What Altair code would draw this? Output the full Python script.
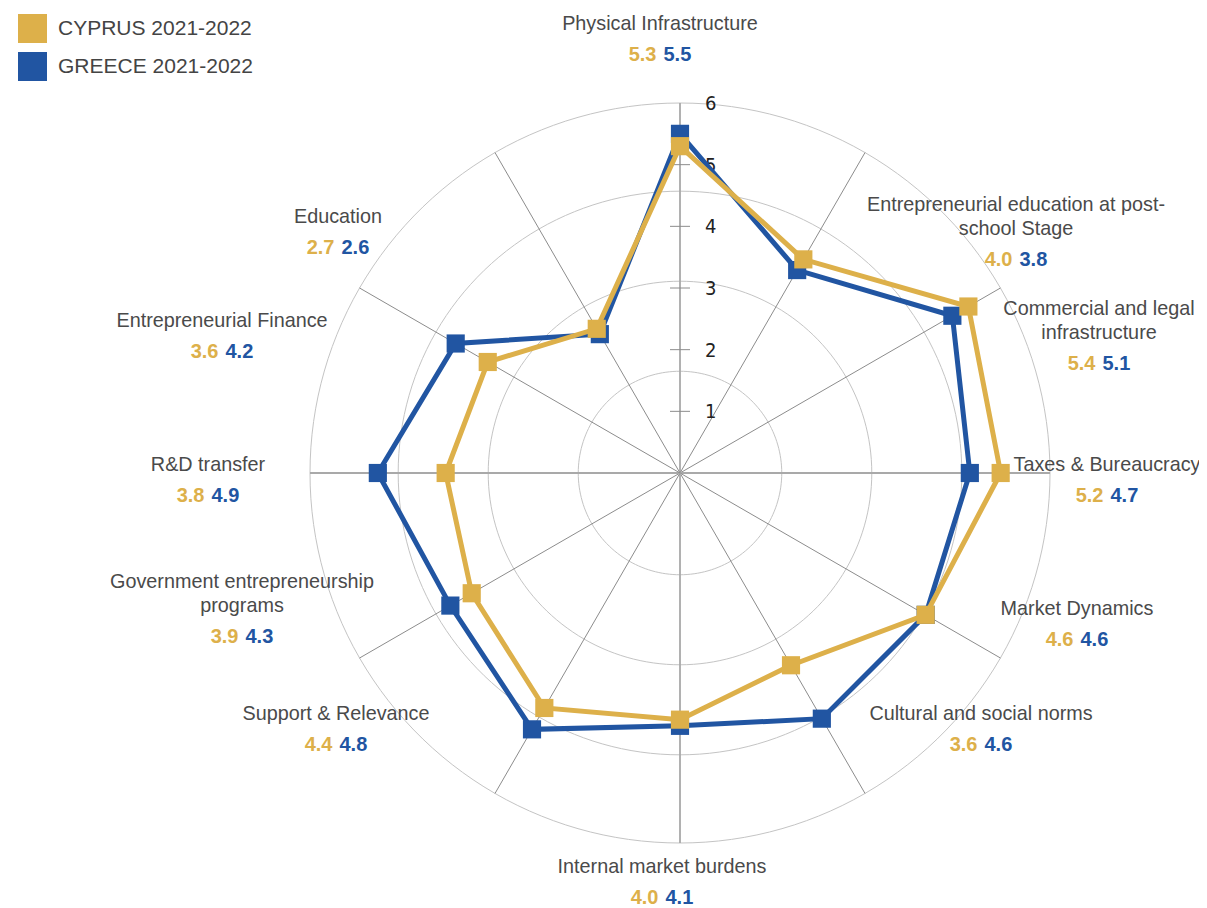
import altair as alt
import numpy as np
import pandas as pd

# ---------------- data ----------------
CATEGORIES = [
    "Physical Infrastructure",
    "Entrepreneurial education at post-\nschool Stage",
    "Commercial and legal\ninfrastructure",
    "Taxes & Bureaucracy",
    "Market Dynamics",
    "Cultural and social norms",
    "Internal market burdens",
    "Support & Relevance",
    "Government entrepreneurship\nprograms",
    "R&D transfer",
    "Entrepreneurial Finance",
    "Education",
]
CYPRUS = [5.3, 4.0, 5.4, 5.2, 4.6, 3.6, 4.0, 4.4, 3.9, 3.8, 3.6, 2.7]
GREECE = [5.5, 3.8, 5.1, 4.7, 4.6, 4.6, 4.1, 4.8, 4.3, 4.9, 4.2, 2.6]
SERIES = ["CYPRUS 2021-2022", "GREECE 2021-2022"]
RADIAL_TICKS = [1, 2, 3, 4, 5, 6]
GRID_LEVELS = [1.65, 3.11, 4.57, 6.0]
RMAX = 6

# ---------------- layout / style ----------------
GOLD = "#DDB04A"
BLUE = "#2155A2"
W, H = 1191, 900
U = 370 / 6.0                     # pixels per value unit
CX, CY = 680 - 8, 473 - 8         # centre inside the view
XMIN, XMAX = -CX / U, (W - CX) / U
YMAX, YMIN = CY / U, (CY - H) / U
LABEL_DX = [-20, 336, 419, 427, 397, 301, -18, -344, -438, -472, -458, -342]
LABEL_DY = [-451, -270, -166, -10, 134, 239, 392, 239, 107, -10, -154, -258]
LINE_H, VAL_GAP = 24, 31
FONT = "Liberation Sans"
NARROW = "DejaVu Sans Condensed, Liberation Sans Narrow, sans-serif"

n = len(CATEGORIES)
xs = alt.Scale(domain=[XMIN, XMAX], nice=False, zero=False)
ys = alt.Scale(domain=[YMIN, YMAX], nice=False, zero=False)
color_scale = alt.Scale(domain=SERIES, range=[GOLD, BLUE])

# series table (closed polygons)
rows = []
for s, vals in zip(SERIES, [CYPRUS, GREECE]):
    for i in range(n + 1):
        rows.append({"series": s, "order": i, "idx": i % n, "value": vals[i % n]})
series_df = pd.DataFrame(rows)

ang = "datum.idx * PI / 6"
base = alt.Chart(series_df).transform_calculate(
    x=f"datum.value * sin({ang})", y=f"datum.value * cos({ang})"
)

def series_layers(name, col):
    line = base.transform_filter(alt.datum.series == name).mark_line(
        strokeWidth=5, color=col, strokeJoin="miter"
    ).encode(
        x=alt.X("x:Q", scale=xs, axis=None),
        y=alt.Y("y:Q", scale=ys, axis=None),
        order="order:Q",
    )
    pts = base.transform_filter(
        (alt.datum.series == name) & (alt.datum.order < n)
    ).mark_point(shape="square", size=330, filled=True, opacity=1).encode(
        x=alt.X("x:Q", scale=xs, axis=None),
        y=alt.Y("y:Q", scale=ys, axis=None),
        color=alt.Color(
            "series:N",
            scale=color_scale,
            legend=alt.Legend(
                title=None, orient="none", legendX=10, legendY=6,
                symbolType="square", symbolSize=841, symbolStrokeWidth=0,
                symbolOpacity=1, labelFontSize=21, labelFont=FONT,
                labelColor="#444444", labelOffset=11, rowPadding=9, padding=0,
                labelLimit=400,
            ),
        ),
    )
    return line, pts

# grid circles
grid_rows = []
for lv in GRID_LEVELS:
    for d in range(0, 361, 2):
        grid_rows.append({"level": lv, "deg": d})
grid = alt.Chart(pd.DataFrame(grid_rows)).transform_calculate(
    x="datum.level * sin(datum.deg * PI / 180)",
    y="datum.level * cos(datum.deg * PI / 180)",
).mark_line(color="#c4c4c4", strokeWidth=1).encode(
    x=alt.X("x:Q", scale=xs, axis=None),
    y=alt.Y("y:Q", scale=ys, axis=None),
    detail="level:Q",
    order="deg:Q",
)

# spokes
spoke_df = pd.DataFrame({"idx": list(range(n))})
spokes = alt.Chart(spoke_df).transform_calculate(
    x0="0", y0="0",
    x1=f"{RMAX} * sin({ang})", y1=f"{RMAX} * cos({ang})",
    main="datum.idx % 3 == 0",
).mark_rule().encode(
    x=alt.X("x0:Q", scale=xs, axis=None),
    y=alt.Y("y0:Q", scale=ys, axis=None),
    x2="x1:Q",
    y2="y1:Q",
    color=alt.condition("datum.main", alt.value("#a9a9a9"), alt.value("#8c8c8c")),
    strokeWidth=alt.condition("datum.main", alt.value(1.8), alt.value(1)),
)

# radial axis ticks and labels
tick_df = pd.DataFrame({"v": RADIAL_TICKS})
ticks = alt.Chart(tick_df).transform_filter(alt.datum.v < RMAX).transform_calculate(
    xa=str(-10 / U), xb=str(10 / U)
).mark_rule(color="#8c8c8c", strokeWidth=1).encode(
    x=alt.X("xa:Q", scale=xs, axis=None),
    x2="xb:Q",
    y=alt.Y("v:Q", scale=ys, axis=None),
)
tick_labels = alt.Chart(tick_df).mark_text(
    align="left", baseline="middle", dx=25, dy=1, font=NARROW, fontSize=20,
    color="#222222",
).encode(
    x=alt.X(datum=0, scale=xs, axis=None),
    y=alt.Y("v:Q", scale=ys, axis=None),
    text="v:Q",
)

# category labels
name_rows, val_rows = [], []
for i, cat in enumerate(CATEGORIES):
    lines = cat.split("\n")
    lx = LABEL_DX[i] / U
    for k, ln in enumerate(lines):
        name_rows.append({"idx": i, "line": ln, "lx": lx,
                          "ly": -(LABEL_DY[i] + k * LINE_H) / U})
    vy = -(LABEL_DY[i] + (len(lines) - 1) * LINE_H + VAL_GAP) / U
    val_rows.append({"idx": i, "lx": lx, "ly": vy,
                     "cyprus": CYPRUS[i], "greece": GREECE[i]})
name_df = pd.DataFrame(name_rows)
val_df = pd.DataFrame(val_rows)

names = alt.Chart(name_df).mark_text(
    align="center", baseline="middle", dy=1.5, font=FONT, fontSize=19.8,
    color="#4a4a4a",
).encode(
    x=alt.X("lx:Q", scale=xs, axis=None),
    y=alt.Y("ly:Q", scale=ys, axis=None),
    text="line:N",
)
vals_c = alt.Chart(val_df).mark_text(
    align="right", baseline="middle", dx=-3.5, dy=1.5, font=FONT, fontSize=20,
    fontWeight="bold", color=GOLD,
).encode(
    x=alt.X("lx:Q", scale=xs, axis=None),
    y=alt.Y("ly:Q", scale=ys, axis=None),
    text=alt.Text("cyprus:Q", format=".1f"),
)
vals_g = alt.Chart(val_df).mark_text(
    align="left", baseline="middle", dx=3.5, dy=1.5, font=FONT, fontSize=20,
    fontWeight="bold", color=BLUE,
).encode(
    x=alt.X("lx:Q", scale=xs, axis=None),
    y=alt.Y("ly:Q", scale=ys, axis=None),
    text=alt.Text("greece:Q", format=".1f"),
)

g_line, g_pts = series_layers(SERIES[1], BLUE)
c_line, c_pts = series_layers(SERIES[0], GOLD)

chart = alt.layer(
    grid, spokes, ticks, tick_labels, names, vals_c, vals_g,
    g_line, g_pts, c_line, c_pts,
).properties(
    width=W, height=H, padding=0,
    autosize=alt.AutoSizeParams(type="none"),
    background="white",
).configure_view(stroke=None)

chart.save("out.html", embed_options={"renderer": "svg", "actions": False})
